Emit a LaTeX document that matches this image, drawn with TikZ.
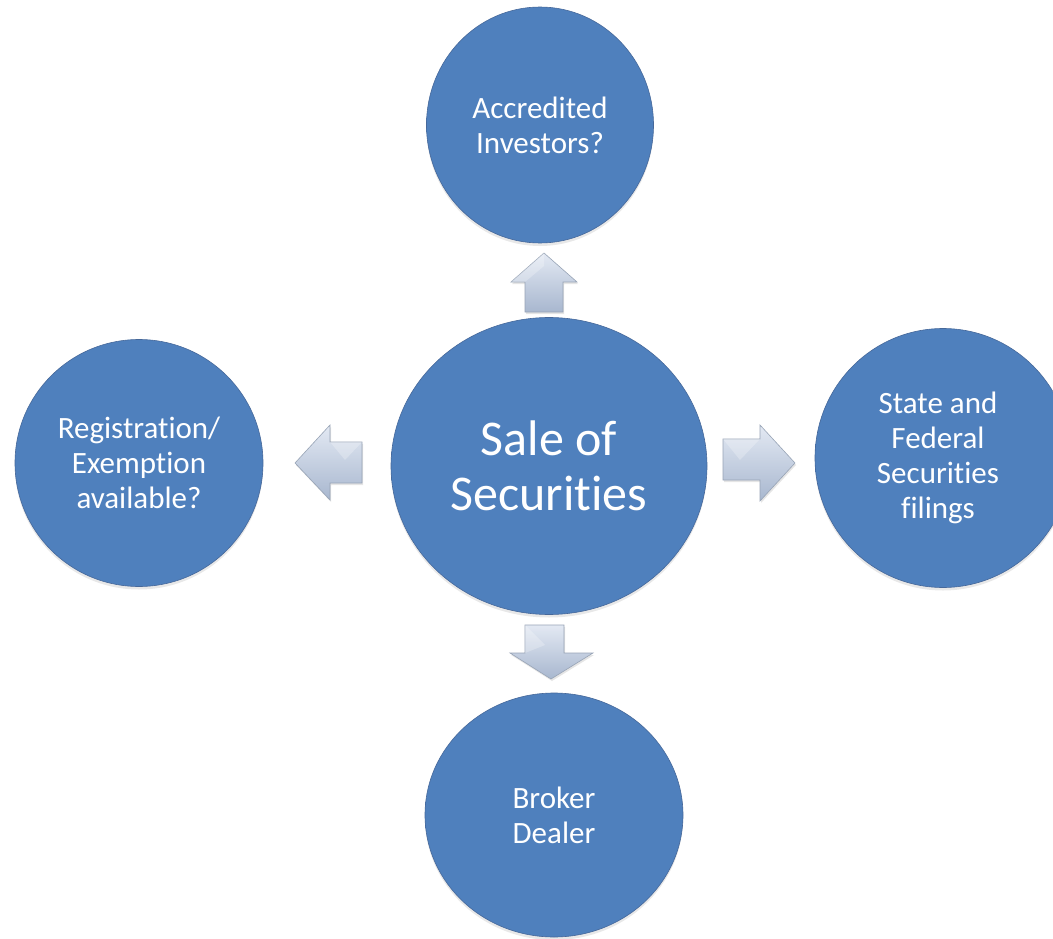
\documentclass[tikz,border=0pt]{standalone}
\usepackage{fontspec}
\setmainfont{Carlito}
\usetikzlibrary{shapes.geometric,shadows}
\newcommand{\nolig}{\kern0pt{}}
\definecolor{ballblue}{HTML}{4F80BD}
\definecolor{balldark}{HTML}{406FA8}
\definecolor{ballrim}{HTML}{46689A}
\definecolor{arrowlight}{HTML}{E3E9F3}
\definecolor{arrowmid}{HTML}{C9D4E6}
\definecolor{arrowdark}{HTML}{A8B7CF}
\definecolor{arrowedge}{HTML}{98A4B6}
\pgfdeclareradialshading{ballshade}{\pgfpoint{0bp}{3bp}}{color(0bp)=(ballblue); color(40bp)=(ballblue); color(50bp)=(balldark); color(60bp)=(balldark)}
\tikzset{
  ballnode/.style={ellipse, draw=ballrim, line width=0.6pt, shading=ballshade,
    inner sep=0pt, text=white, align=center,
    font=\fontsize{31}{35}\selectfont,
    drop shadow={opacity=0.18, shadow xshift=0pt, shadow yshift=-3pt}},
  bignode/.style={font=\fontsize{50}{55}\selectfont},
  blockarrow/.style={draw=arrowedge, line width=0.6pt, top color=arrowlight,
    bottom color=arrowdark, line join=miter,
    drop shadow={opacity=0.2, shadow xshift=1pt, shadow yshift=-2pt}},
  facet/.style={fill=white, opacity=0.25}
}
\begin{document}
\begin{tikzpicture}[x=1pt,y=-1pt]
\useasboundingbox (0,0) rectangle (1053,939);
\clip (0,0) rectangle (1053,939);
\fill[white] (0,0) rectangle (1053,939);

% circles
\node[ballnode, minimum width=227pt, minimum height=236pt] (acc) at (540,125)
  {Accredited\\Investors?};
\node[ballnode, bignode, minimum width=316pt, minimum height=297pt] (sale) at (549,466)
  {Sale of\\Securit\nolig ies};
\node[ballnode, minimum width=248pt, minimum height=247pt] (reg) at (139,463)
  {Registrat\nolig ion/\\Exempt\nolig ion\\available?};
\node[ballnode, minimum width=256pt, minimum height=259pt] (sf) at (943,458)
  {\hspace*{-10pt}State and\\\hspace*{-10pt}Federal\\\hspace*{-10pt}Securit\nolig ies\\\hspace*{-10pt}f\nolig ilings};
\node[ballnode, minimum width=258pt, minimum height=244pt] (bd) at (554,815)
  {Broker\\Dealer};

% block arrows
\path[blockarrow] (544,253) -- (577,282) -- (563,282) -- (563,312) -- (525,312)
  -- (525,282) -- (511,282) -- cycle;
\fill[facet] (544,253) -- (511,282) -- (525,282) -- (544,266) -- cycle;

\path[blockarrow] (295,463) -- (330,425) -- (330,442) -- (362,442) -- (362,483)
  -- (330,483) -- (330,500) -- cycle;
\fill[facet] (330,442) -- (362,442) -- (345,460) -- cycle;

\path[blockarrow] (795,463) -- (760,425) -- (760,439) -- (723,439) -- (723,480)
  -- (760,480) -- (760,501) -- cycle;
\fill[facet] (723,439) -- (760,439) -- (740,460) -- cycle;

\path[blockarrow] (551,679) -- (593,653) -- (564,653) -- (564,625) -- (525,625)
  -- (525,653) -- (510,653) -- cycle;
\fill[facet] (525,625) -- (545,645) -- (525,653) -- cycle;
\end{tikzpicture}
\end{document}
